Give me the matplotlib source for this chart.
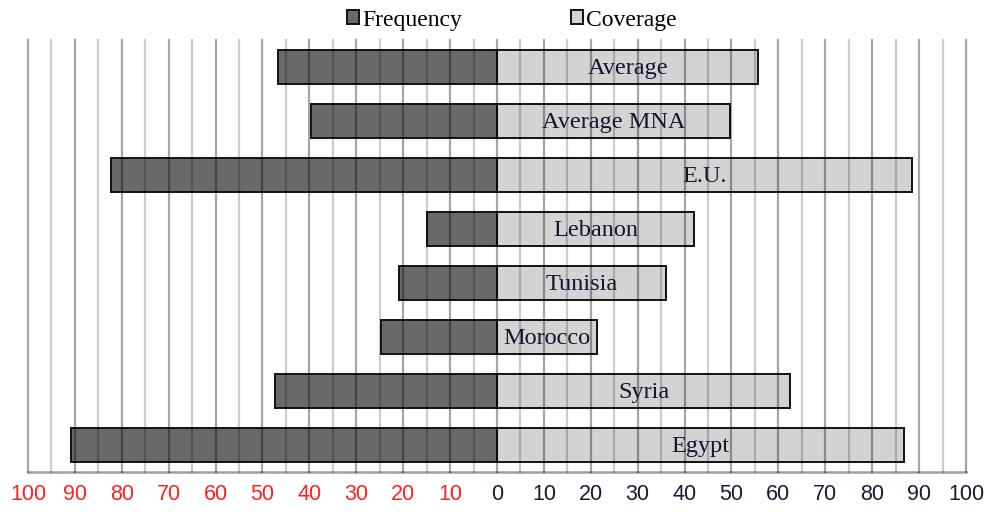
import numpy as np
import matplotlib.pyplot as plt

# data (percent)
countries = ['Average', 'Average MNA', 'E.U.', 'Lebanon', 'Tunisia', 'Morocco', 'Syria', 'Egypt']
frequency = [46.7, 39.7, 82.3, 14.9, 20.9, 24.7, 47.3, 90.8]
coverage = [55.7, 49.7, 88.5, 42.0, 36.0, 21.3, 62.5, 86.8]
ticks = list(range(-100, 101, 10))

fig = plt.figure(figsize=(9.86, 5.15), dpi=100)
ax = fig.add_axes([0.0284, 0.0835, 0.9513, 0.8388])

y = np.arange(len(countries))
h = 0.63
ax.barh(y, [-f for f in frequency], height=h, color='#696969', edgecolor='#111111',
        linewidth=1.4, label='Frequency', zorder=2)
ax.barh(y, coverage, height=h, color='#d3d3d3', edgecolor='#111111',
        linewidth=1.4, label='Coverage', zorder=2)

for yi, name, c in zip(y, countries, coverage):
    ax.text(c / 2, yi + 0.03, name, ha='center', va='center', fontsize=17.5,
            family='Liberation Serif', color='#14142e', zorder=4)

# grid drawn over the bars
for v in range(-100, 101, 5):
    if v % 10 == 0:
        ax.axvline(v, color='black', alpha=0.35, lw=1.6, zorder=3, clip_on=False)
    else:
        ax.axvline(v, color='black', alpha=0.2, lw=1.6, zorder=3, clip_on=False)

ax.set_xlim(-100, 100)
ax.set_ylim(len(countries) - 0.5, -0.5)
ax.set_yticks([])
ax.set_xticks(ticks)
ax.set_xticklabels([str(abs(t)) for t in ticks], family='Liberation Sans', fontsize=15.5)
for t, lab in zip(ticks, ax.get_xticklabels()):
    lab.set_color('#ff2020' if t < 0 else '#1a1a33')
ax.tick_params(axis='x', length=0, pad=9)

for s in ['top', 'left', 'right']:
    ax.spines[s].set_visible(False)
ax.spines['bottom'].set_color('#a0a0a0')
ax.spines['bottom'].set_linewidth(1.8)

leg = ax.legend(loc='lower center', bbox_to_anchor=(0.516, 1.0), ncol=2, frameon=False,
                prop={'family': 'Liberation Serif', 'size': 17},
                handlelength=0.5, handleheight=0.5, handletextpad=0.15,
                columnspacing=4.6, borderaxespad=0)

fig.savefig('out.png', dpi=100)
